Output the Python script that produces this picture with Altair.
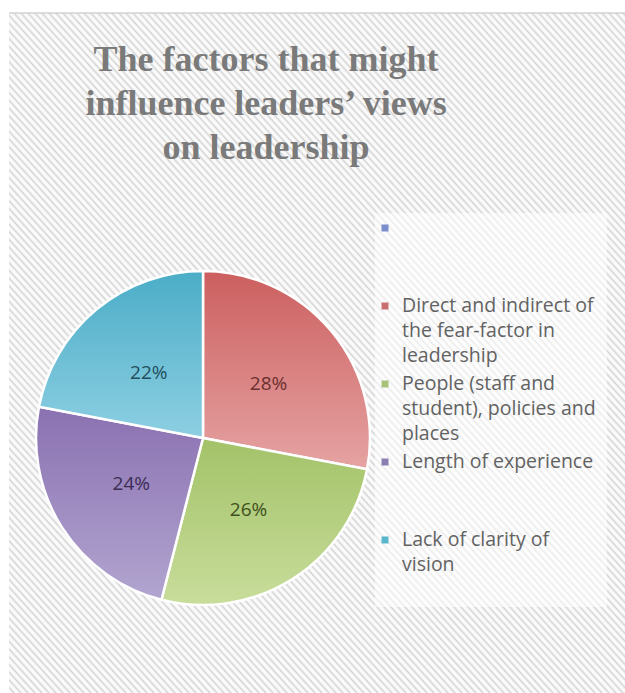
import altair as alt
import pandas as pd

# ---------------- data ----------------
title_lines = ["The factors that might", "influence leaders\u2019 views", "on leadership"]
categories = [
    "Direct and indirect of the fear-factor in leadership",
    "People (staff and student), policies and places",
    "Length of experience",
    "Lack of clarity  of vision",
]
values = [28, 26, 24, 22]
blank_entry = " "
legend_entries = [blank_entry] + categories
legend_labels = [
    " ",
    "Direct and indirect of\nthe fear-factor in\nleadership",
    "People (staff and\nstudent), policies and\nplaces",
    "Length of experience",
    "Lack of clarity  of\nvision",
]

# ---------------- styles ----------------
legend_colors = ["#7b8ecb", "#c96f6f", "#a8c27a", "#8b7fb1", "#5ab6cc"]
slice_top = ["#cc5f5f", "#a3c268", "#8a71b1", "#4badc7"]
slice_bottom = ["#e6a3a3", "#c8dd9b", "#b2a5d0", "#8dcfe2"]
label_colors = ["#6b3030", "#3f5020", "#3c2c54", "#1f4e5c"]

CX, CY, R = 203, 438, 167


def vgrad(c1, c2):
    return {"gradient": "linear", "x1": 0, "y1": 0, "x2": 0, "y2": 1,
            "stops": [{"offset": 0, "color": c1}, {"offset": 1, "color": c2}]}


# diagonal hatch background as a striped gradient
N = 176
light, dark = "#fafafa", "#d4d4d4"
stops = []
for i in range(N):
    stops.append({"offset": round(i / N, 6), "color": light})
    stops.append({"offset": round((i + 0.4) / N, 6), "color": light})
    stops.append({"offset": round((i + 0.7) / N, 6), "color": dark})
stops.append({"offset": 1, "color": light})
bg_grad = {"gradient": "linear", "x1": 0, "y1": 1, "x2": 1, "y2": 0, "stops": stops}

df = pd.DataFrame({"cat": categories, "value": values, "idx": list(range(len(categories)))})
legend_df = pd.DataFrame({"cat": legend_entries, "label": legend_labels,
                          "row": list(range(len(legend_entries)))})

one = alt.Data(values=[{}])

bg = alt.Chart(one).mark_rect(fill=bg_grad).encode(
    x=alt.value(9), x2=alt.value(625), y=alt.value(13), y2=alt.value(693)
)
topline = alt.Chart(one).mark_rule(color="#d2d2d2", strokeWidth=1.5).encode(
    x=alt.value(9), x2=alt.value(625), y=alt.value(13)
)
legend_box = alt.Chart(one).mark_rect(fill="white", opacity=0.55).encode(
    x=alt.value(375), x2=alt.value(607), y=alt.value(213), y2=alt.value(607)
)

title = alt.Chart(one).mark_text(
    text=title_lines, font="Liberation Serif", fontSize=36, fontWeight="bold",
    color="#7a7a7a", lineHeight=44, align="center", baseline="middle"
).encode(x=alt.value(266), y=alt.value(60))

base = alt.Chart(df).encode(
    theta=alt.Theta("value:Q", stack=True),
    order=alt.Order("idx:Q"),
    x=alt.value(CX),
    y=alt.value(CY),
)

fill_cond = {
    "condition": [{"test": f"datum.idx === {i}", "value": vgrad(slice_top[i], slice_bottom[i])}
                  for i in range(len(categories) - 1)],
    "value": vgrad(slice_top[-1], slice_bottom[-1]),
}
pie = base.mark_arc(outerRadius=R, stroke="white", strokeWidth=2.5).encode(
    detail="cat:N", fill=fill_cond
)

text_cond = {
    "condition": [{"test": f"datum.idx === {i}", "value": label_colors[i]}
                  for i in range(len(categories) - 1)],
    "value": label_colors[-1],
}
pct = base.transform_calculate(label="datum.value + '%'").mark_text(
    radius=85, font="Open Sans", fontSize=19
).encode(detail="cat:N", text="label:N", fill=text_cond)

ypos = alt.Y("row:Q", scale=alt.Scale(domain=[0, 4], range=[228, 540]), axis=None)
leg_base = alt.Chart(legend_df).encode(y=ypos)
leg_sym = leg_base.mark_square(size=49, opacity=1).encode(
    x=alt.value(385),
    color=alt.Color("cat:N", scale=alt.Scale(domain=legend_entries, range=legend_colors),
                    legend=None),
)
leg_txt = leg_base.mark_text(
    align="left", baseline="line-top", dy=-12.5, lineBreak="\n", lineHeight=25,
    font="Open Sans", fontSize=19.5, color="#626262"
).encode(x=alt.value(402), text="label:N")

chart = alt.layer(bg, topline, title, legend_box, pie, pct, leg_sym, leg_txt).properties(
    width=625, height=693, autosize="none", padding=0, background="white"
).configure_view(strokeWidth=0)

chart.save("out.html", embed_options={"renderer": "svg", "actions": False})
